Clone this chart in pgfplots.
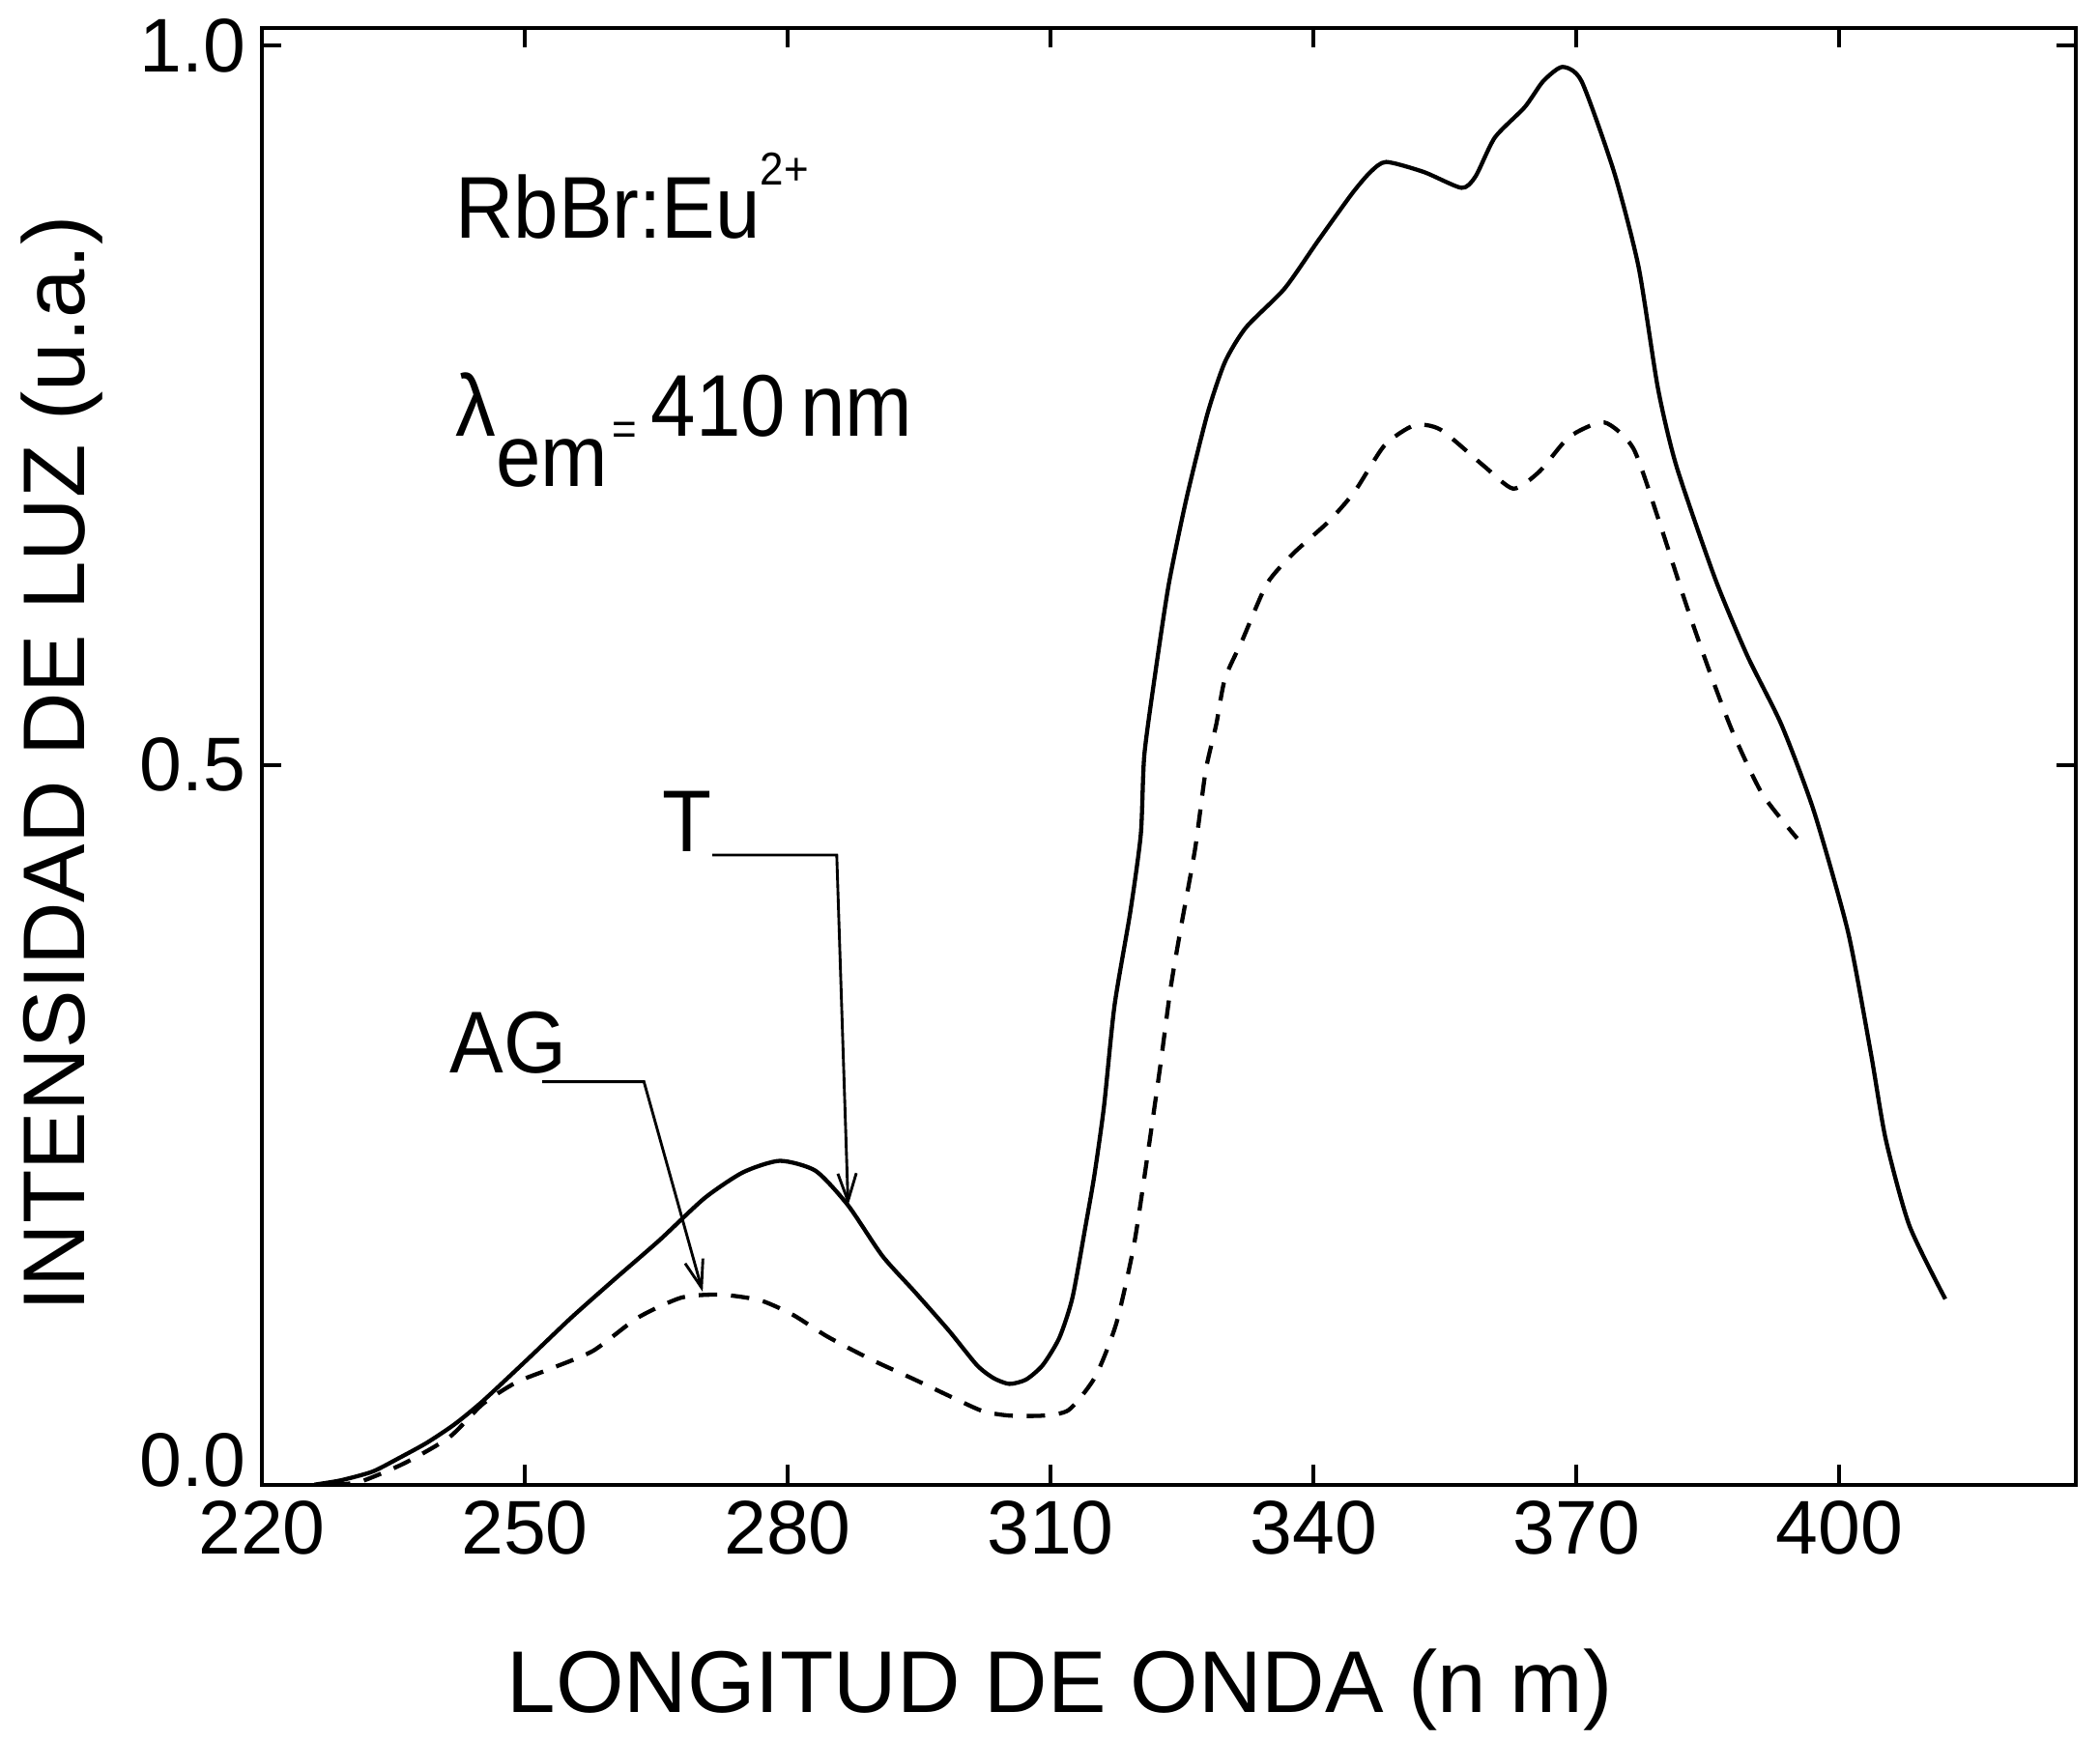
\documentclass[border=0pt]{standalone}
\usepackage{fontspec}
\setmainfont{Liberation Sans}
\newfontfamily\nar[FakeStretch=0.92]{Liberation Sans}
\usepackage{pgfplots}
\pgfplotsset{compat=1.18}
\usetikzlibrary{arrows.meta}

\pgfplotstableread{
x y
226.0 0.000
229.0 0.003
232.6 0.009
235.5 0.018
238.8 0.029
242.0 0.042
245.2 0.058
250.3 0.087
255.3 0.116
260.3 0.143
265.4 0.170
270.5 0.199
274.9 0.217
279.1 0.225
283.2 0.218
286.9 0.194
290.8 0.159
294.5 0.134
298.4 0.107
301.6 0.083
303.5 0.074
305.3 0.070
307.2 0.073
309.1 0.083
311.0 0.102
312.5 0.130
314.0 0.180
315.0 0.215
316.1 0.263
317.3 0.333
319.1 0.398
320.3 0.452
320.7 0.507
322.0 0.566
323.5 0.626
325.5 0.685
327.9 0.744
329.9 0.780
332.3 0.804
336.7 0.831
340.5 0.864
344.4 0.897
346.5 0.912
348.3 0.919
352.6 0.912
356.9 0.901
358.5 0.909
360.7 0.936
364.1 0.957
366.2 0.975
368.4 0.985
370.6 0.975
374.3 0.912
377.1 0.846
379.3 0.762
381.4 0.708
385.8 0.630
389.5 0.576
393.4 0.528
397.1 0.468
401.0 0.384
403.6 0.300
405.3 0.240
408.0 0.180
412.1 0.129
}\datT

\pgfplotstableread{
x y
228.0 0.000
231.2 0.002
236.3 0.015
241.4 0.033
245.2 0.056
249.0 0.071
252.7 0.080
257.8 0.093
262.9 0.116
267.9 0.130
272.4 0.132
276.9 0.128
280.6 0.118
284.5 0.103
289.5 0.087
294.5 0.073
299.0 0.060
302.3 0.051
305.3 0.048
309.2 0.048
312.1 0.052
315.1 0.075
317.5 0.112
319.5 0.166
321.0 0.226
322.5 0.290
323.7 0.345
324.9 0.388
326.5 0.442
327.7 0.496
328.9 0.528
329.9 0.560
331.9 0.587
334.7 0.626
337.7 0.647
341.7 0.669
344.7 0.690
348.1 0.722
351.5 0.736
354.5 0.733
359.4 0.708
362.8 0.692
365.8 0.704
369.2 0.728
373.2 0.738
376.5 0.720
379.3 0.672
382.5 0.612
385.2 0.565
387.9 0.522
391.2 0.480
395.2 0.449
}\datAG

\begin{document}
\begin{tikzpicture}
\begin{axis}[
  scale only axis,
  width=13.82cm, height=11.10cm,
  xmin=220, xmax=427, ymin=0, ymax=1.012,
  xtick={220,250,280,310,340,370,400},
  xticklabels={220,250,280,310,340,370,400},
  ytick={0,0.5,1},
  yticklabels={{},0.5,1.0},
  tick align=inside,
  major tick length=0.15cm,
  axis line style={line width=0.8pt},
  tick style={line width=0.8pt, black},
  ticklabel style={font=\fontsize{16.5}{16.5}\selectfont},
  xlabel={LONGITUD DE ONDA (n m)},
  ylabel={INTENSIDAD DE LUZ (u.a.)},
  every axis x label/.style={at={(axis description cs:0.44,-0.1566)}, anchor=base, font=\fontsize{19}{19}\selectfont},
  every axis y label/.style={at={(axis description cs:-0.0975,0.495)}, anchor=base, rotate=90, font=\fontsize{19}{19}\selectfont},
  clip=false,
]
\addplot[black, line width=0.9pt, smooth, tension=0.4] table[x=x,y=y] {\datT};
\addplot[black, line width=0.9pt, smooth, tension=0.4, dash pattern=on 4pt off 3pt] table[x=x,y=y] {\datAG};

\node[anchor=east, font=\fontsize{16.5}{16.5}\selectfont] at ([yshift=0.19cm]axis cs:220,0) {0.0};

\node[anchor=base west, inner sep=0, font=\nar\fontsize{19}{19}\selectfont] at (axis cs:242,0.866)
  {RbBr:Eu\raisebox{11.5pt}{\fontsize{10}{10}\selectfont 2+}};
\node[anchor=base west, inner sep=0, font=\nar\fontsize{19}{19}\selectfont] at (axis cs:242,0.7285)
  {λ\raisebox{-11pt}{em}\hspace{1pt}\raisebox{-2pt}{\fontsize{10}{10}\selectfont =}\hspace{3pt}410\,nm};
\node[anchor=base west, inner sep=0, font=\nar\fontsize{19}{19}\selectfont] at (axis cs:265.6,0.4395) {T};
\node[anchor=base west, inner sep=0, font=\nar\fontsize{19}{19}\selectfont] at (axis cs:241.4,0.2863) {AG};

\draw[line width=0.6pt, -{Straight Barb[length=6pt,width=4pt]}] (axis cs:271.4,0.4375) -- (axis cs:285.6,0.4375) -- (axis cs:286.9,0.194);
\draw[line width=0.6pt, -{Straight Barb[length=6pt,width=4pt]}] (axis cs:252.0,0.280) -- (axis cs:263.6,0.280) -- (axis cs:270.3,0.134);
\end{axis}
\pgfresetboundingbox
\path ([shift={(-1.995cm,-1.944cm)}]current axis.south west) rectangle ([shift={(0.184cm,0.214cm)}]current axis.north east);
\end{tikzpicture}
\end{document}
